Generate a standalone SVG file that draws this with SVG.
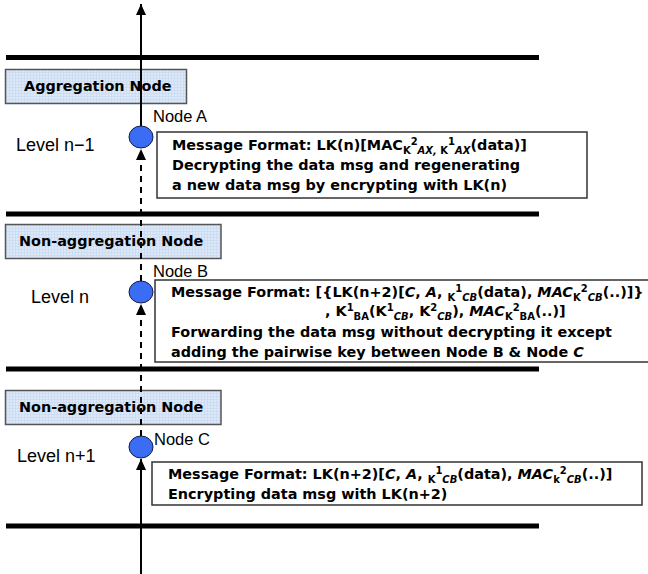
<svg xmlns="http://www.w3.org/2000/svg" width="648" height="574" viewBox="0 0 648 574">
<defs>
<pattern id="grid" width="3" height="3" patternUnits="userSpaceOnUse">
<rect width="3" height="3" fill="#dce8f8"/>
<path d="M0 0.5H3M0.5 0V3" stroke="#c4d7f0" stroke-width="0.6"/>
</pattern>
<marker id="ah" viewBox="0 0 11 10" refX="11" refY="5" markerWidth="11" markerHeight="10" orient="auto" markerUnits="userSpaceOnUse">
<path d="M0 0L11 5L0 10z" fill="#000"/>
</marker>
<style>
.bar{fill:#000}
.lvl{font-family:"Liberation Sans",Arial,sans-serif;font-size:18px;fill:#000}
.nl{font-family:"Liberation Sans",Arial,sans-serif;font-size:16.5px;fill:#000}
.bt{font-family:"DejaVu Sans",sans-serif;font-weight:bold;font-size:14.4px;fill:#000}
.mb{fill:#fff;stroke:#333;stroke-width:1.5}
.nb{fill:url(#grid);stroke:#555;stroke-width:1.5}
.node{fill:#3a6cf4;stroke:#1a1a40;stroke-width:1}
.s{font-size:10px}
.i{font-style:italic}
.ln{stroke:#000;stroke-width:2;fill:none}
.d{stroke-dasharray:6 5}
</style>
</defs>
<g id="levels">
<rect class="bar" x="6" y="55" width="533" height="5"/>
<rect class="bar" x="6" y="211.5" width="533" height="5"/>
<rect class="bar" x="6" y="366.5" width="533" height="5"/>
<rect class="bar" x="6" y="523.5" width="533" height="5"/>
<text class="lvl" x="16" y="151">Level n−1</text>
<text class="lvl" x="31" y="303">Level n</text>
<text class="lvl" x="17" y="462">Level n+1</text>
</g>
<g id="type-agg">
<rect class="nb" x="5.5" y="69.5" width="181" height="34"/>
<text class="bt" x="24" y="91">Aggregation Node</text>
</g>
<g id="type-nonagg-1">
<rect class="nb" x="5.5" y="224.5" width="215.5" height="34"/>
<text class="bt" x="19" y="246">Non-aggregation Node</text>
</g>
<g id="type-nonagg-2">
<rect class="nb" x="5.5" y="390.5" width="215.5" height="34"/>
<text class="bt" x="19" y="412">Non-aggregation Node</text>
</g>
<g id="msgA">
<rect class="mb" x="157" y="132" width="430" height="66"/>
<text class="bt" x="172" y="150">Message Format: LK(n)[MAC<tspan class="s" y="154">K</tspan><tspan class="s" y="145">2</tspan><tspan class="s i" y="154">AX, </tspan><tspan class="s" y="154">K</tspan><tspan class="s" y="145">1</tspan><tspan class="s i" y="154">AX</tspan><tspan y="150">(data)]</tspan></text>
<text class="bt" x="172" y="170">Decrypting the data msg and regenerating</text>
<text class="bt" x="172" y="190">a new data msg by encrypting with LK(n)</text>
</g>
<g id="msgB">
<rect class="mb" x="155" y="280" width="495" height="82"/>
<text class="bt" x="171" y="297">Message Format: [{LK(n+2)[<tspan class="i">C</tspan>, <tspan class="i">A</tspan>, <tspan class="s" y="301">K</tspan><tspan class="s" y="292">1</tspan><tspan class="s i" y="301">CB</tspan><tspan y="297">(data), </tspan><tspan class="i">MAC</tspan><tspan class="s" y="301">K</tspan><tspan class="s" y="292">2</tspan><tspan class="s i" y="301">CB</tspan><tspan y="297">(..)]}</tspan></text>
<text class="bt" x="325" y="316">, K<tspan class="s" y="311">1</tspan><tspan class="s" y="320">BA</tspan><tspan y="316">(K</tspan><tspan class="s" y="311">1</tspan><tspan class="s i" y="320">CB</tspan><tspan y="316">, K</tspan><tspan class="s" y="311">2</tspan><tspan class="s i" y="320">CB</tspan><tspan y="316">), </tspan><tspan class="i">MAC</tspan><tspan class="s" y="320">K</tspan><tspan class="s" y="311">2</tspan><tspan class="s" y="320">BA</tspan><tspan y="316">(..)]</tspan></text>
<text class="bt" x="171" y="337">Forwarding the data msg without decrypting it except</text>
<text class="bt" x="171" y="357">adding the pairwise key between Node B &amp; Node <tspan class="i">C</tspan></text>
</g>
<g id="msgC">
<rect class="mb" x="152" y="462" width="490" height="43"/>
<text class="bt" x="168" y="479">Message Format: LK(n+2)[<tspan class="i">C</tspan>, <tspan class="i">A</tspan>, <tspan class="s" y="483">K</tspan><tspan class="s" y="474">1</tspan><tspan class="s i" y="483">CB</tspan><tspan y="479">(data), </tspan><tspan class="i">MAC</tspan><tspan class="s" y="483">k</tspan><tspan class="s" y="474">2</tspan><tspan class="s i" y="483">CB</tspan><tspan y="479">(..)]</tspan></text>
<text class="bt" x="168" y="499">Encrypting data msg with LK(n+2)</text>
</g>
<g id="connectors">
<line class="ln" x1="141" y1="126" x2="141" y2="4" marker-end="url(#ah)"/>
<line class="ln d" x1="141" y1="281" x2="141" y2="149" marker-end="url(#ah)"/>
<line class="ln d" x1="141" y1="436" x2="141" y2="304" marker-end="url(#ah)"/>
<line class="ln" x1="141" y1="574" x2="141" y2="459" marker-end="url(#ah)"/>
</g>
<g id="nodeA">
<ellipse class="node" cx="141" cy="137" rx="12" ry="11"/>
<text class="nl" x="153" y="122">Node A</text>
</g>
<g id="nodeB">
<ellipse class="node" cx="141" cy="292" rx="12" ry="11"/>
<text class="nl" x="153" y="277">Node B</text>
</g>
<g id="nodeC">
<ellipse class="node" cx="141" cy="447" rx="12" ry="11"/>
<text class="nl" x="154" y="445">Node C</text>
</g>
</svg>
